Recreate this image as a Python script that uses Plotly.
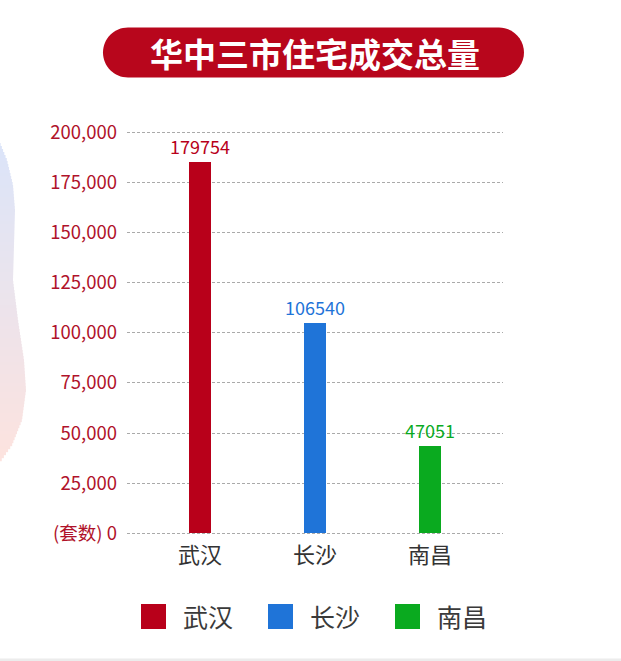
import numpy as np
import plotly.graph_objects as go

# ---------------- data ----------------
categories = ["武汉", "长沙", "南昌"]
bar_values = [185000, 104700, 43500]          # bar heights as drawn
label_texts = ["179754", "106540", "47051"]   # value labels printed above bars
colors = ["#b8001a", "#1f74d8", "#0aaa1f"]
tick_vals = [0, 25000, 50000, 75000, 100000, 125000, 150000, 175000, 200000]
tick_text = ["(套数) 0", "25,000", "50,000", "75,000", "100,000",
             "125,000", "150,000", "175,000", "200,000"]
title_text = "华中三市住宅成交总量"

# ---------------- layout geometry (pixels) ----------------
W, H = 621, 661
ML, MR, MT, MB = 127, 118, 127, 123
PW, PH = W - ML - MR, H - MT - MB
Y0_PX, Y200_PX = 533.3, 132.3
ppu = (Y0_PX - Y200_PX) / 200000.0
y_lo = -((H - MB) - Y0_PX) / ppu
y_hi = 200000 + (Y200_PX - MT) / ppu


def px(x):
    return (x - ML) / PW


def py(y):
    return ((H - MB) - y) / PH


FONT = "Noto Sans CJK SC"
AX_RED = "#b0122a"

fig = go.Figure()
for i, c in enumerate(categories):
    fig.add_trace(go.Bar(
        x=[i], y=[bar_values[i]], width=0.183,
        marker=dict(color=colors[i], line=dict(width=0)),
        text=[label_texts[i]], textposition="outside", constraintext="none",
        textfont=dict(color=colors[i], size=18, family=FONT),
        cliponaxis=False, showlegend=False, hoverinfo="skip",
    ))

shapes = []
annotations = []

# decorative blob on the left (vertical gradient blue -> pink)
prof_y = np.array([143, 160, 185, 210, 245, 280, 320, 360, 390, 420, 445, 462], float)
prof_x = np.array([0, 7, 13, 15, 14, 13, 18, 24, 26, 22, 12, 0], float)
c_top = np.array([0xdb, 0xe4, 0xf9], float)
c_bot = np.array([0xfd, 0xe3, 0xde], float)
ys = np.arange(143, 462, 3.0)
for yy in ys:
    xw = np.interp(yy + 1.5, prof_y, prof_x)
    t = (yy - 143) / (462 - 143)
    col = c_top * (1 - t) + c_bot * t
    shapes.append(dict(type="rect", xref="paper", yref="paper",
                       x0=px(0), x1=px(xw), y0=py(yy + 3.2), y1=py(yy),
                       fillcolor="rgb(%d,%d,%d)" % tuple(col.round()),
                       line=dict(width=0), layer="below"))

# title pill
x0, x1, y0, y1, r = 103, 524, 27.5, 77.5, 25
k = 0.5523 * r
pts = [
    ("M", [(x0 + r, y0)]),
    ("L", [(x1 - r, y0)]),
    ("C", [(x1 - r + k, y0), (x1, y0 + r - k), (x1, y0 + r)]),
    ("C", [(x1, y0 + r + k), (x1 - r + k, y1), (x1 - r, y1)]),
    ("L", [(x0 + r, y1)]),
    ("C", [(x0 + r - k, y1), (x0, y0 + r + k), (x0, y0 + r)]),
    ("C", [(x0, y0 + r - k), (x0 + r - k, y0), (x0 + r, y0)]),
]
path = " ".join(cmd + " " + " ".join("%.5f,%.5f" % (px(a), py(b)) for a, b in p)
                for cmd, p in pts) + " Z"
shapes.append(dict(type="path", xref="paper", yref="paper", path=path,
                   fillcolor="#b8061c", line=dict(width=0), layer="above"))
annotations.append(dict(xref="paper", yref="paper", x=px(315), y=py(53),
                        text="<b>" + title_text + "</b>", showarrow=False,
                        font=dict(family=FONT, size=33, color="white"),
                        xanchor="center", yanchor="middle"))

# custom legend
leg_sq = [141, 268, 395]
leg_tx = [181, 308, 435]
for i, c in enumerate(categories):
    shapes.append(dict(type="rect", xref="paper", yref="paper",
                       x0=px(leg_sq[i]), x1=px(leg_sq[i] + 25),
                       y0=py(629), y1=py(604), fillcolor=colors[i],
                       line=dict(width=0)))
    annotations.append(dict(xref="paper", yref="paper", x=px(leg_tx[i]), y=py(616),
                            text=c, showarrow=False, xanchor="left", yanchor="middle",
                            font=dict(family=FONT, size=25, color="#3a3a3a")))

# bottom grey strip
shapes.append(dict(type="rect", xref="paper", yref="paper",
                   x0=px(0), x1=px(W), y0=py(H), y1=py(658.5),
                   fillcolor="#ececec", line=dict(width=0)))

fig.update_layout(
    width=W, height=H,
    margin=dict(l=ML, r=MR, t=MT, b=MB, pad=0),
    paper_bgcolor="white", plot_bgcolor="white",
    bargap=0, showlegend=False,
    font=dict(family=FONT),
    shapes=shapes, annotations=annotations,
    xaxis=dict(range=[-0.635, 2.635], tickmode="array",
               tickvals=list(range(len(categories))), ticktext=categories,
               showgrid=False, zeroline=False, showline=False, ticks="",
               tickfont=dict(size=22, color="#333333", family=FONT),
               ticklabelstandoff=2, fixedrange=True),
    yaxis=dict(range=[y_lo, y_hi], tickmode="array", tickvals=tick_vals,
               ticktext=tick_text, showgrid=True, gridcolor="#aaaaaa",
               griddash="3px,2px", gridwidth=1, zeroline=False, showline=False,
               ticks="", tickfont=dict(size=18.5, color=AX_RED, family=FONT),
               ticklabelstandoff=9, fixedrange=True),
)

fig.write_html("out.html", config={"displayModeBar": False},
               post_script="document.body.style.margin='0';document.body.style.padding='0';")
